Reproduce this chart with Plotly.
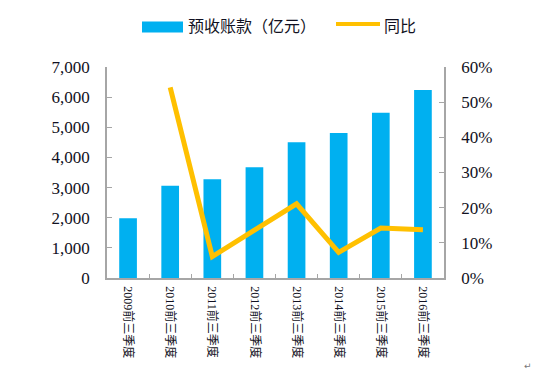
import plotly.graph_objects as go

categories = ["2009前三季度", "2010前三季度", "2011前三季度", "2012前三季度",
              "2013前三季度", "2014前三季度", "2015前三季度", "2016前三季度"]
advance_receipts = [1980, 3060, 3275, 3675, 4500, 4810, 5480, 6240]   # 亿元
yoy_growth = [None, 0.542, 0.061, 0.136, 0.211, 0.073, 0.142, 0.137]

bar_name = "预收账款（亿元）"
line_name = "同比"

W, H = 539, 378
OFF = 8  # page body margin
L, R, T, B = 107, 444, 66.7, 278.3   # plot area in page pixels

def px_x(x):
    return (x - L) / (R - L)

def px_y(y):
    return (B - y) / (B - T)

BLUE = "#00B0F0"
GOLD = "#FFC000"
AXIS = "#A6A6A6"
TXT = "#111122"
NUM_FONT = "Liberation Serif, Noto Sans CJK SC, serif"

fig = go.Figure()
fig.add_trace(go.Bar(x=categories, y=advance_receipts, name=bar_name,
                     marker=dict(color=BLUE, line=dict(width=0)), showlegend=False))
fig.add_trace(go.Scatter(x=categories, y=yoy_growth, name=line_name, yaxis="y2",
                         mode="lines", line=dict(color=GOLD, width=5),
                         showlegend=False))

# legend drawn at top
fig.add_shape(type="rect", xref="paper", yref="paper",
              x0=px_x(142), x1=px_x(183), y0=px_y(32), y1=px_y(21),
              fillcolor=BLUE, line=dict(width=0))
fig.add_shape(type="line", xref="paper", yref="paper",
              x0=px_x(336), x1=px_x(380), y0=px_y(23.5), y1=px_y(23.5),
              line=dict(color=GOLD, width=4))
fig.add_annotation(text=bar_name, xref="paper", yref="paper", x=px_x(186), y=px_y(25),
                   xanchor="left", yanchor="middle", showarrow=False,
                   font=dict(family="Noto Sans CJK SC", size=16, color=TXT))
fig.add_annotation(text=line_name, xref="paper", yref="paper", x=px_x(382), y=px_y(25),
                   xanchor="left", yanchor="middle", showarrow=False,
                   font=dict(family="Noto Sans CJK SC", size=16, color=TXT))
fig.add_annotation(text="↵", xref="paper", yref="paper", x=px_x(528), y=px_y(367),
                   xanchor="center", yanchor="middle", showarrow=False,
                   font=dict(family="DejaVu Sans", size=9, color="#777777"))

fig.update_layout(
    width=W, height=H,
    margin=dict(l=L - OFF, r=W - (R - OFF), t=T - OFF, b=H - (B - OFF), pad=0),
    paper_bgcolor="white", plot_bgcolor="white",
    bargap=0.58,
    xaxis=dict(type="category", showgrid=False, showline=True, linecolor=AXIS, linewidth=1.5,
               ticks="inside", tickson="boundaries", ticklen=4, tickcolor=AXIS, tickwidth=1,
               tickangle=90, tickfont=dict(family=NUM_FONT, size=12, color=TXT),
               ticklabelstandoff=4),
    yaxis=dict(range=[0, 7000], dtick=1000, tickformat=",", showgrid=False, zeroline=False,
               showline=True, linecolor=AXIS, linewidth=1.5, ticks="inside", ticklen=5,
               tickcolor=AXIS, tickfont=dict(family=NUM_FONT, size=17, color=TXT),
               ticklabelstandoff=12),
    yaxis2=dict(range=[0, 0.6], dtick=0.1, tickformat=".0%", overlaying="y", side="right",
                showgrid=False, zeroline=False, showline=True, linecolor=AXIS, linewidth=1.5,
                ticks="inside", ticklen=5, tickcolor=AXIS,
                tickfont=dict(family=NUM_FONT, size=17, color=TXT), ticklabelstandoff=12),
)

fig.write_html("out.html")
